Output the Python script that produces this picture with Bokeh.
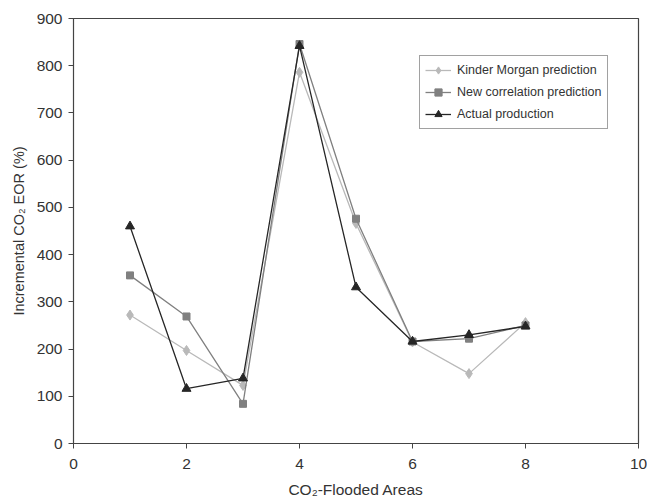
from bokeh.plotting import figure
from bokeh.models import FixedTicker, Range1d, Legend, LegendItem
from bokeh.embed import file_html
from bokeh.resources import INLINE

areas = [1, 2, 3, 4, 5, 6, 7, 8]
kinder = [272, 197, 123, 786, 466, 215, 148, 256]
newcorr = [356, 269, 84, 846, 476, 216, 222, 250]
actual = [460, 116, 138, 842, 331, 216, 230, 248]

x_ticks = [0, 2, 4, 6, 8, 10]
y_ticks = [0, 100, 200, 300, 400, 500, 600, 700, 800, 900]

FONT = "Liberation Sans"

p = figure(width=647, height=502, output_backend="svg", toolbar_location=None,
           x_range=Range1d(0, 10), y_range=Range1d(0, 900),
           min_border_left=73, min_border_right=9, min_border_top=18, min_border_bottom=59)
p.xgrid.visible = False
p.ygrid.visible = False
p.outline_line_color = "#444444"
p.outline_line_width = 1.2

for ax in (p.xaxis[0], p.yaxis[0]):
    ax.major_label_text_font = FONT
    ax.major_label_text_font_size = "15.5px"
    ax.major_label_text_color = "#333333"
    ax.axis_label_text_font = FONT
    ax.axis_label_text_font_style = "normal"
    ax.axis_label_text_color = "#333333"
    ax.axis_line_color = "#444444"
    ax.major_tick_line_color = "#444444"
    ax.major_tick_out = 5
    ax.major_tick_in = 0
    ax.minor_tick_line_color = None

p.xaxis.ticker = FixedTicker(ticks=x_ticks)
p.yaxis.ticker = FixedTicker(ticks=y_ticks)
p.xaxis.axis_label = "CO₂-Flooded Areas"
p.yaxis.axis_label = "Incremental CO₂ EOR (%)"
p.xaxis.axis_label_text_font_size = "15.5px"
p.yaxis.axis_label_text_font_size = "14.5px"
p.xaxis.major_label_standoff = 10
p.xaxis.axis_label_standoff = 9
p.yaxis.major_label_standoff = 6
p.yaxis.axis_label_standoff = 7

c_k, c_n, c_a = "#b9b9b9", "#808080", "#262626"

l1 = p.line(areas, kinder, line_color=c_k, line_width=1.3)
m1 = p.scatter(areas, kinder, marker="diamond", size=10, fill_color=c_k, line_color=c_k)
l2 = p.line(areas, newcorr, line_color=c_n, line_width=1.3)
m2 = p.scatter(areas, newcorr, marker="square", size=7, fill_color=c_n, line_color=c_n)
l3 = p.line(areas, actual, line_color=c_a, line_width=1.3)
m3 = p.scatter(areas, actual, marker="triangle", size=9, fill_color=c_a, line_color=c_a)

legend = Legend(items=[
    LegendItem(label="Kinder Morgan prediction", renderers=[l1, m1]),
    LegendItem(label="New correlation prediction", renderers=[l2, m2]),
    LegendItem(label="Actual production", renderers=[l3, m3]),
], location=(346, 314))
legend.label_text_font = FONT
legend.label_text_font_size = "12.5px"
legend.label_text_color = "#333333"
legend.border_line_color = "#444444"
legend.border_line_width = 1.2
legend.glyph_width = 26
legend.glyph_height = 18
legend.label_height = 18
legend.label_standoff = 6
legend.spacing = 4
legend.padding = 5
legend.margin = 0
legend.background_fill_alpha = 1.0
p.add_layout(legend, "center")

open("out.html", "w").write(file_html(p, INLINE))
